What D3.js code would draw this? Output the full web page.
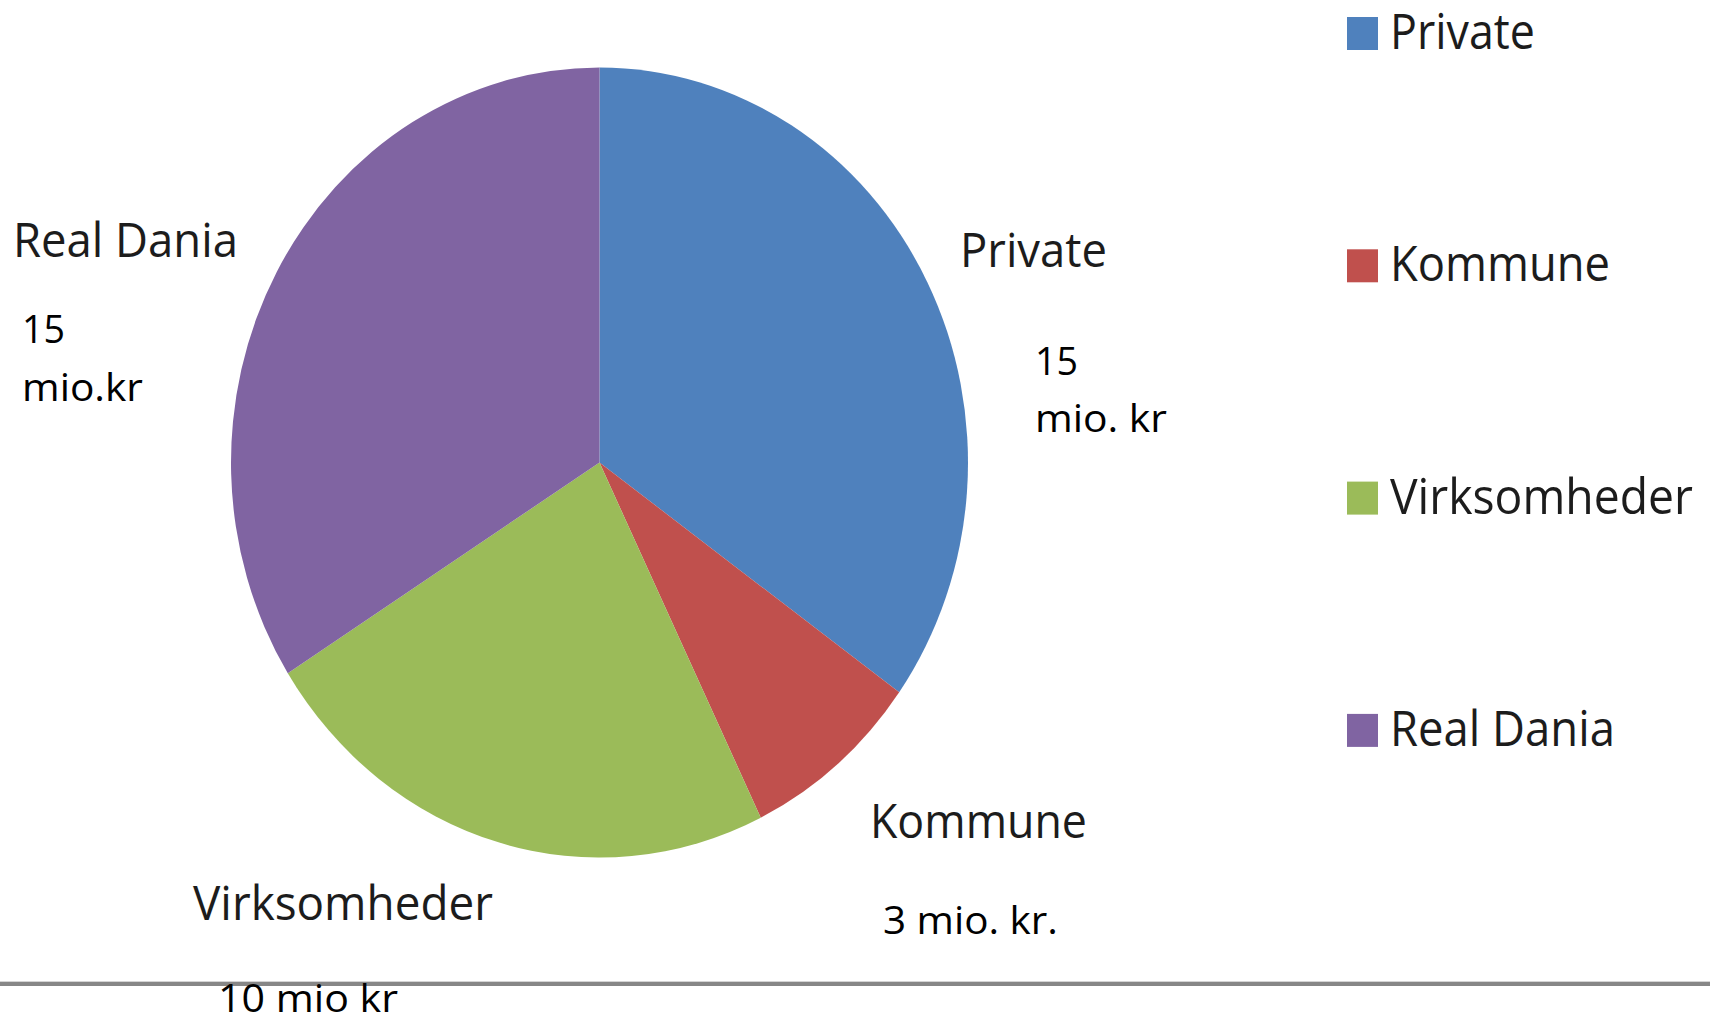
<!DOCTYPE html>
<html>
<head>
<meta charset="utf-8">
<script src="https://cdn.jsdelivr.net/npm/d3@7"></script>
<style>
  html, body { margin: 0; padding: 0; background: #ffffff; overflow: hidden; }
  svg { display: block; }
</style>
</head>
<body>
<svg id="chart" width="1710" height="1023"></svg>
<script>
// ---- data ----
const categories = ["Private", "Kommune", "Virksomheder", "Real Dania"];
const values = [15, 3.4, 10, 14.6];
const valueLabels = [["15", "mio. kr"], ["3 mio. kr."], ["10 mio kr"], ["15", "mio.kr"]];
const colors = ["#4F81BD", "#C0504D", "#9BBB59", "#8064A2"];

// ---- layout (positions only, separate from data) ----
const W = 1710, H = 1023;
const cx = 599.5, cy = 462.5, rx = 368.5, ry = 395;
const nameLayout = [
  { x: 960, y: 267, w: 147 },
  { x: 870, y: 838, w: 217 },
  { x: 193, y: 920, w: 300 },
  { x: 13,  y: 257, w: 225 }
];
const valueLayout = [
  [{ x: 1035, y: 375, w: 43 }, { x: 1035, y: 432, w: 132 }],
  [{ x: 883, y: 934, w: 175 }],
  [{ x: 218, y: 1012, w: 180 }],
  [{ x: 22, y: 343, w: 43 }, { x: 22, y: 401, w: 121 }]
];
const legendLayout = { x: 1347, y0: 17, step: 232.3, box: 31, boxH: 33, textX: 1390, widths: [145, 220, 303, 225] };

const svg = d3.select("#chart");
const font = "'Open Sans', 'Noto Sans', sans-serif";

// place a text at (x, baseline y) and condense it horizontally to width w
function fitText(parent, str, x, y, w, size, fill) {
  const t = parent.append("text")
    .attr("x", 0).attr("y", 0)
    .attr("font-family", font)
    .attr("font-size", size)
    .attr("fill", fill)
    .text(str);
  const natural = t.node().getComputedTextLength();
  const sx = natural > 0 ? w / natural : 1;
  t.attr("transform", `translate(${x},${y}) scale(${sx},1)`);
  return t;
}

// ---- pie (elliptical) ----
const pie = d3.pie().sort(null).value(d => d).startAngle(0).endAngle(2 * Math.PI);
const arcs = pie(values);
const arc = d3.arc().innerRadius(0).outerRadius(ry);
const color = d3.scaleOrdinal().domain(categories).range(colors);

svg.append("g")
  .attr("transform", `translate(${cx},${cy}) scale(${rx / ry},1)`)
  .selectAll("path")
  .data(arcs)
  .join("path")
  .attr("d", arc)
  .attr("fill", (d, i) => color(categories[i]));

// ---- bottom separator line ----
svg.append("rect").attr("x", 0).attr("y", 981).attr("width", W).attr("height", 1).attr("fill", "#d4d4d4");
svg.append("rect").attr("x", 0).attr("y", 982).attr("width", W).attr("height", 4).attr("fill", "#878787");

// ---- category labels ----
const ng = svg.append("g");
categories.forEach((c, i) => {
  const p = nameLayout[i];
  fitText(ng, c, p.x, p.y, p.w, 48, "#1c1c1c");
});

// ---- value labels ----
const vg = svg.append("g");
valueLabels.forEach((lines, i) => {
  lines.forEach((t, j) => {
    const p = valueLayout[i][j];
    fitText(vg, t, p.x, p.y, p.w, 39, "#000");
  });
});

// ---- legend ----
const lg = svg.append("g");
categories.forEach((c, i) => {
  const top = legendLayout.y0 + i * legendLayout.step;
  lg.append("rect")
    .attr("x", legendLayout.x).attr("y", top)
    .attr("width", legendLayout.box).attr("height", legendLayout.boxH)
    .attr("fill", color(c));
  fitText(lg, c, legendLayout.textX, top + 32, legendLayout.widths[i], 50, "#1c1c1c");
});
</script>
</body>
</html>
